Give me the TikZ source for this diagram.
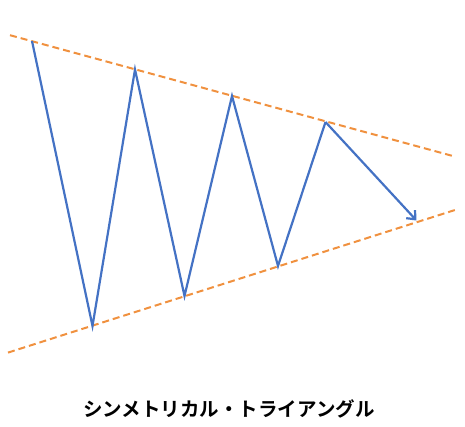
\documentclass[tikz,border=0pt]{standalone}
\usepackage{fontspec}
\newfontfamily\jpfont{Noto Sans CJK JP}[BoldFont={Noto Sans CJK JP Bold}]
\usetikzlibrary{arrows.meta}
\definecolor{trendorange}{HTML}{F0913F}
\definecolor{zigblue}{HTML}{4472C4}
\begin{document}
\begin{tikzpicture}[x=1pt,y=-1pt,
  trend/.style={trendorange,line width=2pt,dash pattern=on 7pt off 4pt},
  zig/.style={zigblue,line width=2.2pt,line join=miter},
  caption/.style={font=\jpfont\bfseries\fontsize{19.5}{22}\selectfont,inner sep=0pt}]
\useasboundingbox (0,0) rectangle (465,427);
\coordinate (u1) at (10,35.2);
\coordinate (u2) at (455,156.6);
\coordinate (l1) at (8,352.6);
\coordinate (l2) at (455,210);
\draw[trend] (u1) -- (u2);
\draw[trend] (l1) -- (l2);
\coordinate (p1) at (32,41);
\coordinate (p2) at (92.5,326);
\coordinate (p3) at (135,69.5);
\coordinate (p4) at (184.5,296);
\coordinate (p5) at (232,96);
\coordinate (p6) at (278,266);
\coordinate (p7) at (325.5,122);
\coordinate (p8) at (416.5,220.5);
\draw[zig] (p1) -- (p2) -- (p3) -- (p4) -- (p5) -- (p6) -- (p7);
\draw[zig,-{Straight Barb[length=7pt,width=12pt]}] (p7) -- (p8);
\node[caption] (title) at (229,409) {シンメトリカル・トライアングル};
\end{tikzpicture}
\end{document}
